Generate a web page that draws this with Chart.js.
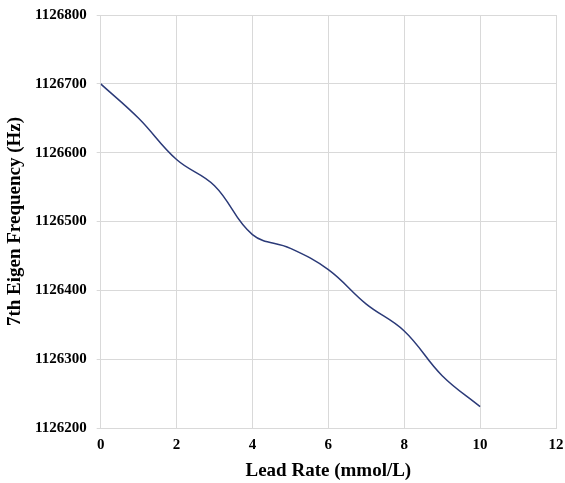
<!DOCTYPE html>
<html><head><meta charset="utf-8">
<script src="https://cdn.jsdelivr.net/npm/chart.js@4"></script>
<style>html,body{margin:0;padding:0;background:#fff}#wrap{width:565px;height:483px}</style>
</head><body><div id="wrap"><canvas id="c" width="565" height="483"></canvas></div>
<script>
const leadRate = [0,1,2,3,4,5,6,7,8,9,10];
const frequency = [1126700,1126650,1126590,1126552,1126481,1126461,1126430,1126380,1126341,1126276,1126231];
const xTicks = [0,2,4,6,8,10,12];
const yTicks = [1126200,1126300,1126400,1126500,1126600,1126700,1126800];

const font = 'Liberation Serif';
new Chart(document.getElementById('c'), {
  type: 'line',
  data: {
    datasets: [{
      data: leadRate.map((x,i)=>({x:x,y:frequency[i]})),
      borderColor: '#2b3a78',
      borderWidth: 1.5,
      pointRadius: 0,
      tension: 0.4,
      fill: false
    }]
  },
  options: {
    responsive: false,
    animation: false,
    layout: {padding: {left: 6, right: 9, top: 15, bottom: 2}},
    plugins: {legend: {display: false}, tooltip: {enabled: false}},
    scales: {
      x: {
        type: 'linear', min: 0, max: 12,
        afterBuildTicks: s => { s.ticks = xTicks.map(v=>({value:v})); },
        afterFit: s => { s.paddingRight = 0; },
        grid: {color: '#d9d9d9', lineWidth: 1, drawTicks: false},
        border: {color: '#d9d9d9'},
        ticks: {color: '#000', padding: 8, font: {family: font, size: 15, weight: 'bold'}},
        title: {display: true, text: 'Lead Rate (mmol/L)', color: '#000', padding: {top: 0, bottom: 0}, font: {family: font, size: 19, weight: 'bold', lineHeight: 1}}
      },
      y: {
        type: 'linear', min: 1126200, max: 1126800,
        afterBuildTicks: s => { s.ticks = yTicks.map(v=>({value:v})); },
        afterFit: s => { s.paddingTop = 0; },
        grid: {color: '#d9d9d9', lineWidth: 1, drawTicks: true, tickLength: 4},
        border: {color: '#d9d9d9'},
        ticks: {color: '#000', padding: 10, font: {family: font, size: 15, weight: 'bold'}, callback: v => String(v)},
        title: {display: true, text: '7th Eigen Frequency (Hz)', color: '#000', padding: {top: 0, bottom: 0}, font: {family: font, size: 19, weight: 'bold', lineHeight: 1}}
      }
    }
  }
});
</script></body></html>
